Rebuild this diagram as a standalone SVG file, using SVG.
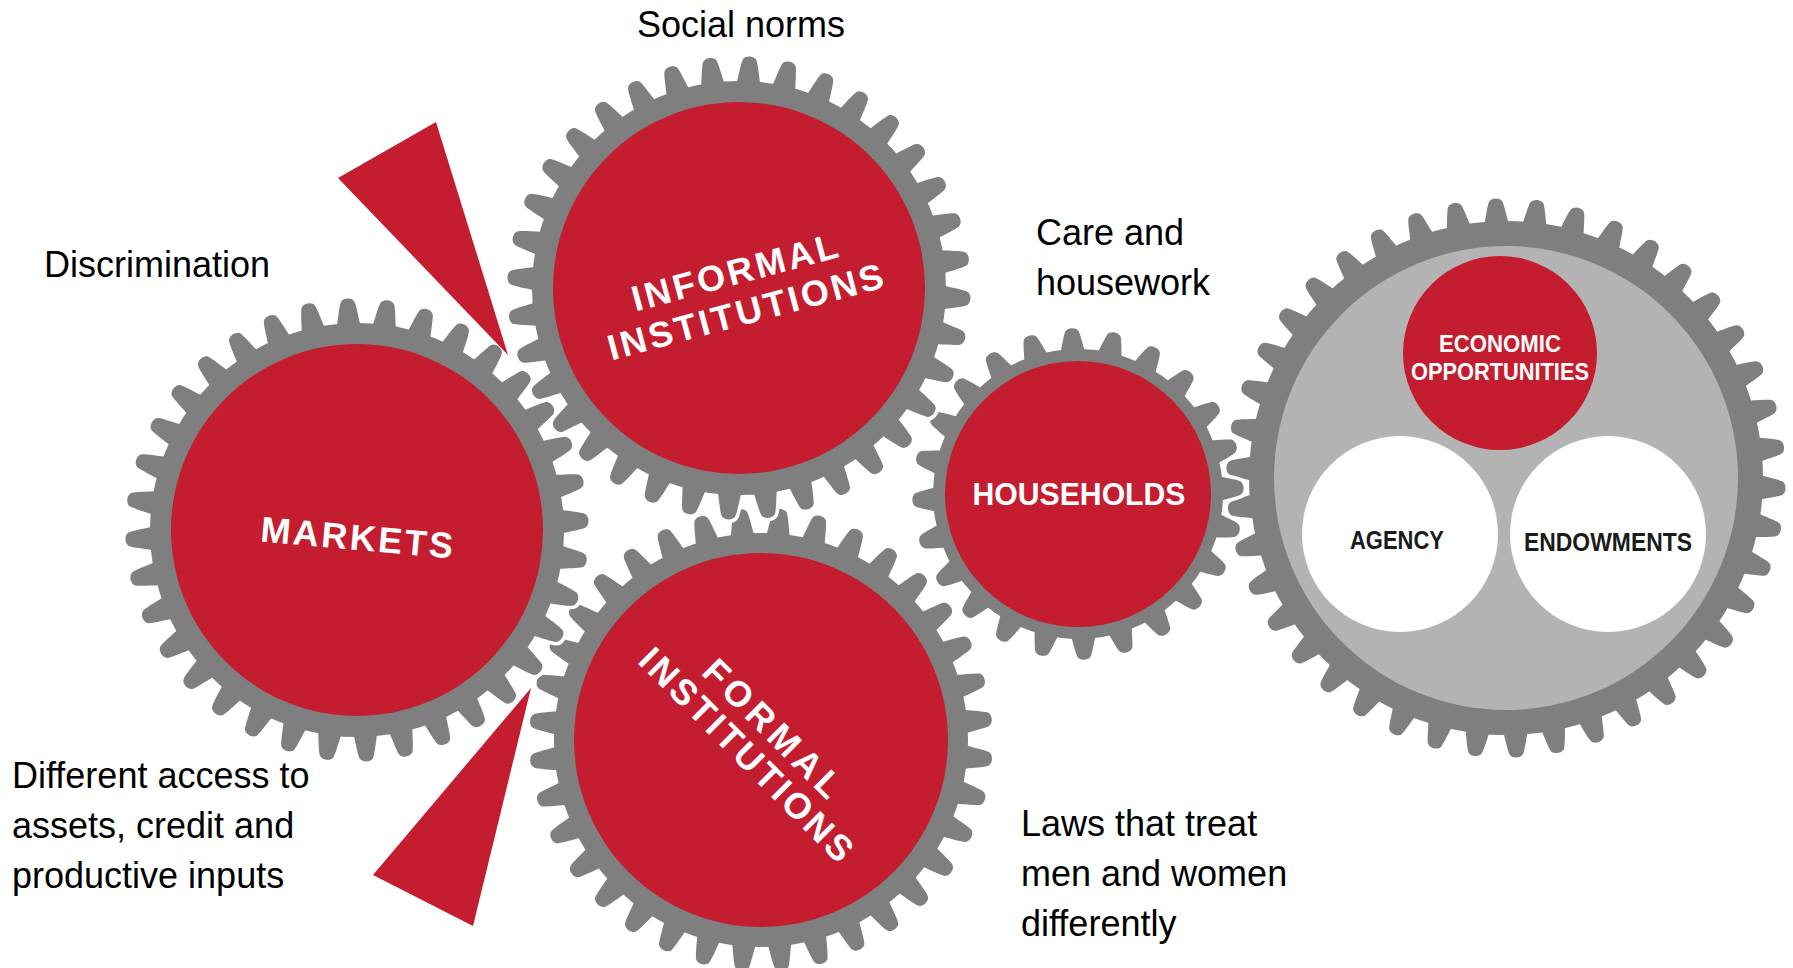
<svg xmlns="http://www.w3.org/2000/svg" width="1793" height="968" viewBox="0 0 1793 968">
<style>
.halo{fill:#fff;stroke:#fff;stroke-width:7;stroke-linejoin:round}
.gear{fill:#7f7f7f}
.red{fill:#c41d2f}
.inner{fill:#b3b3b3}
.white{fill:#fff}
.lbl{font-family:"Liberation Sans",Arial,sans-serif;font-weight:bold;fill:#fff;text-anchor:middle}
.dark{fill:#1b1b1b}
.note{font-family:"Liberation Sans",Arial,sans-serif;font-size:36px;fill:#000}
.wedge{fill:#c41d2f}
</style>
<defs>
<path id="t36" d="M-12,-200 L-11.5,-206 C-10,-214 -8.5,-224 -7,-228 C-5,-233 5,-233 7,-228 C8.5,-224 10,-214 11.5,-206 L12,-200 Z"/>
<g id="t36x2"><use href="#t36"/><use href="#t36" transform="rotate(10)"/></g>
<g id="t36x4"><use href="#t36x2"/><use href="#t36x2" transform="rotate(20)"/></g>
<g id="t36x12"><use href="#t36x4"/><use href="#t36x4" transform="rotate(40)"/><use href="#t36x4" transform="rotate(80)"/></g>
<g id="gear36"><circle r="207"/><use href="#t36x12"/><use href="#t36x12" transform="rotate(120)"/><use href="#t36x12" transform="rotate(240)"/></g>

<path id="t24" d="M-12,-139 L-11.5,-145 C-10,-151 -8.5,-158 -7,-162 C-5,-167 5,-167 7,-162 C8.5,-158 10,-151 11.5,-145 L12,-139 Z"/>
<g id="t24x2"><use href="#t24"/><use href="#t24" transform="rotate(15)"/></g>
<g id="t24x4"><use href="#t24x2"/><use href="#t24x2" transform="rotate(30)"/></g>
<g id="t24x8"><use href="#t24x4"/><use href="#t24x4" transform="rotate(60)"/></g>
<g id="gear24"><circle r="145"/><use href="#t24x8"/><use href="#t24x8" transform="rotate(120)"/><use href="#t24x8" transform="rotate(240)"/></g>

<path id="t42" d="M-12,-250 L-11.5,-257 C-10,-264 -8.5,-272 -7,-276 C-5,-281 5,-281 7,-276 C8.5,-272 10,-264 11.5,-257 L12,-250 Z"/>
<g id="t42x2"><use href="#t42"/><use href="#t42" transform="rotate(8.571429)"/></g>
<g id="t42x6"><use href="#t42x2"/><use href="#t42x2" transform="rotate(17.142857)"/><use href="#t42x2" transform="rotate(34.285714)"/></g>
<g id="gear42"><circle r="257"/><use href="#t42x6"/><use href="#t42x6" transform="rotate(51.428571)"/><use href="#t42x6" transform="rotate(102.857143)"/><use href="#t42x6" transform="rotate(154.285714)"/><use href="#t42x6" transform="rotate(205.714286)"/><use href="#t42x6" transform="rotate(257.142857)"/><use href="#t42x6" transform="rotate(308.571429)"/></g>
</defs>

<rect width="1793" height="968" fill="#fff"/>

<g id="outcomes-gear">
<use href="#gear42" class="halo" transform="translate(1506,478) rotate(6.43)"/>
<use href="#gear42" class="gear" transform="translate(1506,478) rotate(6.43)"/>
<circle class="inner" cx="1506" cy="478" r="232"/>
<g id="economic-opportunities">
<circle class="red" cx="1500" cy="353" r="97"/>
<text class="lbl" x="1500" y="352" font-size="24" textLength="122" lengthAdjust="spacingAndGlyphs">ECONOMIC</text>
<text class="lbl" x="1500" y="380" font-size="24" textLength="178" lengthAdjust="spacingAndGlyphs">OPPORTUNITIES</text>
</g>
<g id="agency">
<circle class="white" cx="1400" cy="534" r="98"/>
<text class="lbl dark" x="1397" y="549" font-size="26" textLength="94" lengthAdjust="spacingAndGlyphs">AGENCY</text>
</g>
<g id="endowments">
<circle class="white" cx="1608" cy="534" r="98"/>
<text class="lbl dark" x="1608" y="551" font-size="26" textLength="168" lengthAdjust="spacingAndGlyphs">ENDOWMENTS</text>
</g>
</g>

<g id="households">
<use href="#gear24" class="halo" transform="translate(1078,494) rotate(12.86)"/>
<use href="#gear24" class="gear" transform="translate(1078,494) rotate(12.86)"/>
<circle class="red" cx="1078" cy="494" r="133"/>
<text class="lbl" x="1079" y="505" font-size="31" textLength="213" lengthAdjust="spacingAndGlyphs">HOUSEHOLDS</text>
</g>

<g id="formal-institutions">
<use href="#gear36" class="halo" transform="translate(761,740) rotate(4.8)"/>
<use href="#gear36" class="gear" transform="translate(761,740) rotate(4.8)"/>
<circle class="red" cx="761" cy="740" r="187"/>
<g transform="translate(761,740) rotate(45)">
<text class="lbl" x="0" y="-4" font-size="36" textLength="180" lengthAdjust="spacing">FORMAL</text>
<text class="lbl" x="0" y="33" font-size="36" textLength="286" lengthAdjust="spacing">INSTITUTIONS</text>
</g>
</g>

<g id="informal-institutions">
<use href="#gear36" class="halo" transform="translate(739,288) rotate(2.65)"/>
<use href="#gear36" class="gear" transform="translate(739,288) rotate(2.65)"/>
<circle class="red" cx="739" cy="288" r="186"/>
<g transform="translate(739,288) rotate(-15)">
<text class="lbl" x="0" y="-4" font-size="36" textLength="212" lengthAdjust="spacing">INFORMAL</text>
<text class="lbl" x="0" y="37" font-size="36" textLength="284" lengthAdjust="spacing">INSTITUTIONS</text>
</g>
</g>

<g id="markets">
<use href="#gear36" class="halo" transform="translate(357,530) rotate(7.65)"/>
<use href="#gear36" class="gear" transform="translate(357,530) rotate(7.65)"/>
<circle class="red" cx="357" cy="530" r="186"/>
<g transform="translate(357,537) rotate(5)">
<text class="lbl" x="0" y="13" font-size="36" textLength="193" lengthAdjust="spacing">MARKETS</text>
</g>
</g>

<g id="connectors">
<polygon class="wedge" points="338,178 436,122 508,355"/>
<polygon class="wedge" points="531,688 373,875 473,926"/>
</g>

<g id="labels">
<text class="note" x="637" y="37">Social norms</text>
<text class="note" x="44" y="277">Discrimination</text>
<text class="note" x="1036" y="245">Care and</text>
<text class="note" x="1036" y="295">housework</text>
<text class="note" x="12" y="788">Different access to</text>
<text class="note" x="12" y="838">assets, credit and</text>
<text class="note" x="12" y="888">productive inputs</text>
<text class="note" x="1021" y="836">Laws that treat</text>
<text class="note" x="1021" y="886">men and women</text>
<text class="note" x="1021" y="936">differently</text>
</g>
</svg>
